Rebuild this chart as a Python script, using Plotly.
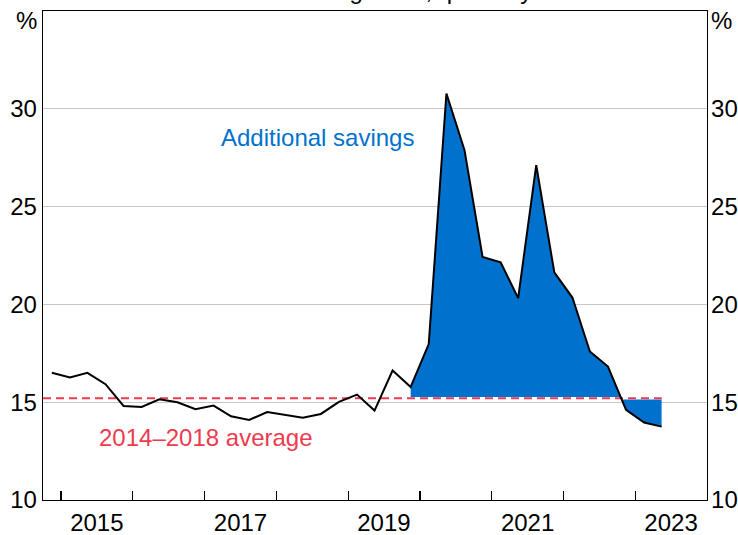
import plotly.graph_objects as go

# ---------------- data ----------------
quarters = (["2014-Q4"]
            + [f"{y}-Q{q}" for y in range(2015, 2023) for q in range(1, 5)]
            + ["2023-Q1", "2023-Q2"])
saving_ratio = [16.51, 16.26, 16.50, 15.92, 14.81, 14.76, 15.15, 15.00,
                14.64, 14.83, 14.28, 14.09, 14.50, 14.37, 14.21, 14.40,
                15.02, 15.39, 14.57, 16.62, 15.78, 17.97, 30.78, 27.88,
                22.42, 22.15, 20.32, 27.12, 21.64, 20.35, 17.59, 16.82,
                14.61, 13.96, 13.75]
average_2014_2018 = 15.2
fill_start = "2019-Q4"
y_ticks = [10, 15, 20, 25, 30]
label_years = [2015, 2017, 2019, 2021, 2023]
tick_years = list(range(2015, 2024))
x_range = ["2014-10-01", "2024-01-01"]
y_range = [10, 35]

title_text = "Household Saving Ratio, quarterly"
savings_label = "Additional savings"
average_label = "2014–2018 average"

# ---------------- helpers ----------------
def mid_quarter(qs):
    y, q = qs.split("-Q")
    return f"{y}-{(int(q) - 1) * 3 + 2:02d}-15"

dates = [mid_quarter(q) for q in quarters]
i0 = quarters.index(fill_start)

BLUE = "#0072CE"
RED = "#EE3A4F"
FONT = "Liberation Sans, Arial, sans-serif"
FS = 24

fig = go.Figure()

fig.add_trace(go.Scatter(x=dates[i0:], y=[average_2014_2018] * len(dates[i0:]),
                         mode="lines", line=dict(width=0, color=BLUE),
                         hoverinfo="skip", showlegend=False))
fig.add_trace(go.Scatter(x=dates[i0:], y=saving_ratio[i0:], mode="lines",
                         line=dict(width=0, color=BLUE), fill="tonexty",
                         fillcolor=BLUE, hoverinfo="skip", showlegend=False))
avg_x = [x_range[0], dates[-1]]
fig.add_trace(go.Scatter(x=avg_x, y=[average_2014_2018] * 2, mode="lines",
                         line=dict(width=2.5, color="white"),
                         hoverinfo="skip", showlegend=False))
fig.add_trace(go.Scatter(x=avg_x, y=[average_2014_2018] * 2, mode="lines",
                         line=dict(width=2, color=RED, dash="8px,5px"),
                         hoverinfo="skip", showlegend=False))
fig.add_trace(go.Scatter(x=dates, y=saving_ratio, mode="lines",
                         line=dict(width=2, color="black"),
                         showlegend=False))
fig.add_trace(go.Scatter(x=[dates[0]], y=[y_range[0]], yaxis="y2",
                         mode="markers", marker=dict(opacity=0),
                         hoverinfo="skip", showlegend=False))

fig.update_layout(
    width=738, height=535,
    margin=dict(l=43, r=31, t=11, b=35, pad=0),
    paper_bgcolor="white", plot_bgcolor="white",
    font=dict(family=FONT, size=FS, color="black"),
    xaxis=dict(
        type="date", range=x_range,
        tickmode="array",
        tickvals=[f"{y}-07-02" for y in label_years],
        ticktext=[str(y) for y in label_years],
        ticks="", showgrid=False, zeroline=False,
        showline=True, linecolor="black", linewidth=1.3, mirror=True,
        tickfont=dict(family=FONT, size=FS, color="black"),
        ticklabelstandoff=1, automargin=False,
        minor=dict(tickmode="array",
                   tickvals=[f"{y}-01-01" for y in tick_years],
                   ticks="inside", ticklen=9, tickwidth=1.3,
                   tickcolor="black", showgrid=False),
    ),
    yaxis=dict(
        range=y_range, tickmode="array", tickvals=y_ticks,
        ticks="", showgrid=True, gridcolor="#c6c6c6", gridwidth=1.3,
        zeroline=False, showline=True, linecolor="black", linewidth=1.3,
        mirror=True, automargin=False,
        tickfont=dict(family=FONT, size=FS, color="black"),
    ),
    yaxis2=dict(
        range=y_range, tickmode="array", tickvals=y_ticks, overlaying="y",
        side="right", ticks="", showgrid=False, zeroline=False,
        showline=True, linecolor="black", linewidth=1.3, automargin=False,
        ticklabelstandoff=-2,
        tickfont=dict(family=FONT, size=FS, color="black"),
    ),
    annotations=[
        dict(text=title_text, xref="paper", yref="paper", x=0.463, y=1.0102,
             xanchor="center", yanchor="bottom", showarrow=False,
             font=dict(family=FONT, size=FS, color="black")),
        dict(text="%", xref="paper", yref="paper", x=-0.0244, y=0.9796,
             xanchor="center", yanchor="middle", showarrow=False,
             font=dict(family=FONT, size=FS, color="black")),
        dict(text="%", xref="paper", yref="paper", x=1.0223, y=0.9796,
             xanchor="center", yanchor="middle", showarrow=False,
             font=dict(family=FONT, size=FS, color="black")),
        dict(text=savings_label, xref="paper", yref="paper", x=0.413, y=0.742,
             xanchor="center", yanchor="middle", showarrow=False,
             font=dict(family=FONT, size=FS, color=BLUE)),
        dict(text=average_label, xref="paper", yref="paper", x=0.246, y=0.127,
             xanchor="center", yanchor="middle", showarrow=False,
             font=dict(family=FONT, size=FS, color=RED)),
    ],
)

fig.write_html("out.html",
               config={"displayModeBar": False, "staticPlot": True},
               post_script="document.body.style.margin='0';"
                           "document.body.style.padding='0';")
